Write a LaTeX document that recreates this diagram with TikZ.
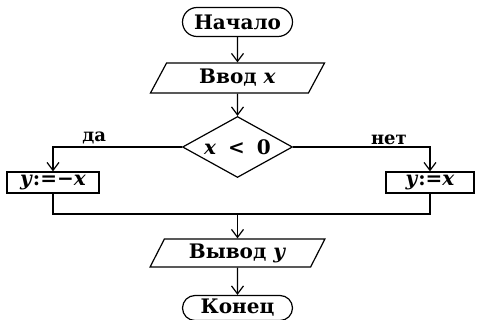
\documentclass[tikz,border=0pt]{standalone}
\usepackage{fontspec}
\setmainfont{DejaVu Serif}
\usetikzlibrary{shapes.geometric,shapes.misc,arrows.meta}
\begin{document}
\begin{tikzpicture}[x=1pt,y=-1pt,line width=1.2pt,
  every node/.style={font=\bfseries\fontsize{20}{22}\selectfont, inner sep=0pt},
  term/.style={draw, rounded rectangle, minimum width=110pt, minimum height=29pt},
  io/.style={draw, trapezium, trapezium left angle=63.4, trapezium right angle=116.6,
    trapezium stretches=true, minimum width=175pt, minimum height=30pt},
  decision/.style={draw, diamond, aspect=1.8, minimum width=110pt, minimum height=61pt},
  proc/.style={draw, rectangle, minimum height=21pt},
  lbl/.style={font=\bfseries\fontsize{18}{20}\selectfont},
  flow/.style={-{Straight Barb[length=8pt,width=12pt]}}]
\useasboundingbox (0,0) rectangle (478,320);

% blocks of the algorithm
\node[term] (start) at (237.5,22) {Начало};
\node[io] (in) at (237.5,78) {Ввод \textit{x}};
\node[decision] (cond) at (237.5,147) {\textit{x}\hspace{0.6em}<\hspace{0.6em}0};
\node[proc, minimum width=92pt] (neg) at (53,182.5) {\textit{y}:=−\textit{x}};
\node[proc, minimum width=88pt] (pos) at (430,182.5) {\textit{y}:=\textit{x}};
\node[io, minimum height=28pt] (out) at (237.5,253) {Вывод \textit{y}};
\node[term, minimum height=25pt] (end) at (237.5,308) {Конец};
\coordinate (join) at (237.5,214);

% connectors
\draw[flow] (start) -- (in);
\draw[flow] (in) -- (cond);
\draw[flow] (cond.west) -| node[lbl, pos=0.34, above=2pt] (yes) {да} (neg.north);
\draw[flow] (cond.east) -| node[lbl, pos=0.35, above=2pt] (no) {нет} (pos.north);
\draw (neg.south) |- (join) -| (pos.south);
\draw[flow] (join) -- (out);
\draw[flow] (out) -- (end);
\end{tikzpicture}
\end{document}
